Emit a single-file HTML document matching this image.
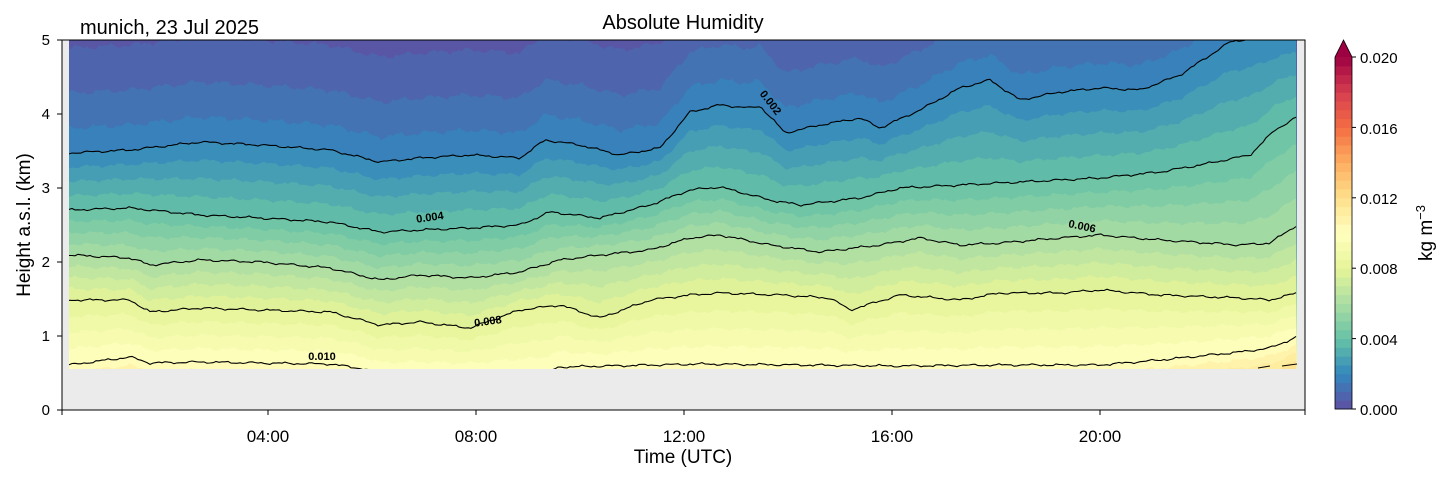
<!DOCTYPE html>
<html><head><meta charset="utf-8">
<style>
html,body{margin:0;padding:0;background:#fff;}
svg{display:block;font-family:"Liberation Sans","DejaVu Sans",sans-serif;}
</style></head>
<body>
<svg id="s" width="1454" height="478" xmlns="http://www.w3.org/2000/svg">
<defs>
<clipPath id="dc"><rect x="69" y="40" width="1228" height="329"/></clipPath>
<linearGradient id="none"/>
</defs>
<rect x="62" y="40" width="1243" height="370" fill="#ebebeb"/>
<g id="fills" clip-path="url(#dc)"></g>
<g id="lines" clip-path="url(#dc)" fill="none" stroke="#000" stroke-width="1.1"></g>
<g font-size="11" font-weight="bold" fill="#000">
<text x="770" y="103" transform="rotate(52 770 103)" text-anchor="middle" dominant-baseline="middle">0.002</text>
<text x="430" y="218" transform="rotate(-8 430 218)" text-anchor="middle" dominant-baseline="middle">0.004</text>
<text x="1082" y="227" transform="rotate(12 1082 227)" text-anchor="middle" dominant-baseline="middle">0.006</text>
<text x="488" y="322" transform="rotate(-8 488 322)" text-anchor="middle" dominant-baseline="middle">0.008</text>
<text x="322" y="357" text-anchor="middle" dominant-baseline="middle">0.010</text>
</g>
<rect x="62" y="40" width="1243" height="370" fill="none" stroke="#000" stroke-width="1"/>
<g id="axes" stroke="#000" stroke-width="1"></g>
<g font-size="15" fill="#000" text-anchor="end">
<text x="50" y="415">0</text><text x="50" y="341">1</text><text x="50" y="267">2</text>
<text x="50" y="193">3</text><text x="50" y="119">4</text><text x="50" y="45">5</text>
</g>
<g font-size="17" fill="#000" text-anchor="middle">
<text x="268" y="442">04:00</text><text x="476" y="442">08:00</text><text x="684" y="442">12:00</text>
<text x="892" y="442">16:00</text><text x="1100" y="442">20:00</text>
</g>
<text x="683" y="463" font-size="19" text-anchor="middle">Time (UTC)</text>
<text x="30" y="225" font-size="19" text-anchor="middle" transform="rotate(-90 30 225)">Height a.s.l. (km)</text>
<text x="683" y="29" font-size="20" text-anchor="middle">Absolute Humidity</text>
<text x="80" y="34" font-size="20">munich, 23 Jul 2025</text>
<g id="cb"></g>
<g font-size="15" fill="#000">
<text x="1360" y="415">0.000</text><text x="1360" y="345">0.004</text><text x="1360" y="274">0.008</text>
<text x="1360" y="204">0.012</text><text x="1360" y="134">0.016</text><text x="1360" y="63">0.020</text>
</g>
<text x="1432" y="233" font-size="19" text-anchor="middle" transform="rotate(-90 1432 233)">kg m<tspan font-size="13" dy="-7">−3</tspan></text>
</svg>
<script>
var NS="http://www.w3.org/2000/svg";
function el(t,a,p){var e=document.createElementNS(NS,t);for(var k in a)e.setAttribute(k,a[k]);p.appendChild(e);return e;}
var anc=["#5e4fa2","#3288bd","#66c2a5","#abdda4","#e6f598","#ffffbf","#fee08b","#fdae61","#f46d43","#d53e4f","#9e0142"];
function hx(h){return [parseInt(h.substr(1,2),16),parseInt(h.substr(3,2),16),parseInt(h.substr(5,2),16)];}
function cmap(t){t=Math.max(0,Math.min(1,t));var f=t*10,i=Math.min(9,Math.floor(f)),r=f-i;var a=hx(anc[i]),b=hx(anc[i+1]);
return "rgb("+[0,1,2].map(function(j){return Math.round(a[j]+(b[j]-a[j])*r)}).join(",")+")";}
function band(k){return cmap((k+0.5)/40);}
var P={
4:[[69,153],[130,150],[200,142],[260,145],[330,150],[380,162],[420,158],[470,155],[520,158],[545,140],[580,145],[620,155],[660,148],[690,112],[720,105],[750,108],[760,106],[775,122],[785,133],[820,125],[860,118],[880,128],[920,110],[960,88],[990,80],[1020,100],[1060,92],[1100,88],[1140,90],[1180,75],[1230,42],[1297,30]],
8:[[69,210],[130,208],[200,215],[260,218],[330,222],[380,232],[420,230],[470,228],[520,225],[550,212],[600,218],[650,205],[690,190],[720,187],[770,200],[800,205],[860,198],[900,188],[960,185],[1000,183],[1060,180],[1100,178],[1160,172],[1200,165],[1250,155],[1275,130],[1297,117]],
12:[[69,255],[130,258],[150,265],[200,260],[260,262],[330,268],[380,280],[420,275],[470,278],[520,272],[560,260],[600,255],[650,250],[690,238],[720,235],[770,245],[820,252],[880,245],[920,238],[960,245],[1000,243],[1060,238],[1100,235],[1160,240],[1240,245],[1270,243],[1297,225]],
16:[[69,300],[130,300],[150,312],[200,308],[260,310],[330,312],[380,325],[420,322],[470,328],[520,310],[560,305],[600,318],[650,300],[690,295],[720,293],[780,295],[830,298],[850,310],[900,295],[960,300],[1000,293],[1060,293],[1100,290],[1160,295],[1240,298],[1270,300],[1297,293]],
20:[[69,365],[130,357],[150,363],[200,362],[260,363],[330,364],[365,369],[380,375],[540,375],[560,367],[700,364],[900,366],[1000,365],[1100,365],[1160,360],[1200,356],[1240,352],[1270,348],[1297,337]]
};
function interp(p,x){if(x<=p[0][0])return p[0][1];for(var i=1;i<p.length;i++){if(x<=p[i][0]){var r=(x-p[i-1][0])/(p[i][0]-p[i-1][0]);return p[i-1][1]+r*(p[i][1]-p[i-1][1]);}}return p[p.length-1][1];}
function wig(x,s){return 1.2*Math.sin(x*0.21+s)+0.8*Math.sin(x*0.53+s*2)+0.5*Math.sin(x*1.1+s*3);}
var xs=[];for(var x=69;x<=1297;x+=3)xs.push(x);
function H(k,x){
 if(k>=4&&k<=20){var lo=Math.floor((k-4)/4)*4+4;if(lo>16)lo=16;var r=(k-lo)/4;var y=interp(P[lo],x)*(1-r)+interp(P[lo+4],x)*r;if(r>0)y+=wig(x,k);return y;}
 if(k<4){var off=[0,105,60,25][k];return interp(P[4],x)-off+1.5*wig(x,k);}
 var b=Math.min(interp(P[20],x),369);return b+(k-20)*8+wig(x,k);}
var fills=document.getElementById("fills"),lines=document.getElementById("lines");
el("rect",{x:69,y:40,width:1228,height:329,fill:band(0)},fills);
for(var k=1;k<=24;k++){var d="M69,380";xs.forEach(function(x){d+=" L"+x+","+H(k,x).toFixed(1);});d+=" L1297,380 Z";el("path",{d:d,fill:band(k)},fills);}
[4,8,12,16,20].forEach(function(k){var d="";xs.forEach(function(x,i){d+=(i?" L":"M")+x+","+(interp(P[k],x)+0.6*wig(x,k+7)).toFixed(1);});el("path",{d:d},lines);});
el("path",{d:"M1258,368 L1270,366 M1282,366 L1297,364"},lines);
var ax=document.getElementById("axes");
[0,1,2,3,4,5].forEach(function(i){var y=410-74*i;el("line",{x1:57,y1:y,x2:62,y2:y},ax);});
[62,268,476,684,892,1100,1305].forEach(function(x){el("line",{x1:x,y1:410,x2:x,y2:415},ax);});
var cb=document.getElementById("cb");
for(var i=0;i<40;i++){var y0=409-(i+1)*8.8;el("rect",{x:1335,y:y0.toFixed(1),width:17,height:9.3,fill:band(i)},cb);}
el("path",{d:"M1335,57 L1343.5,40 L1352,57 Z",fill:band(40)},cb);
el("path",{d:"M1335,57 L1343.5,40 L1352,57 L1352,409 L1335,409 Z",fill:"none",stroke:"#000","stroke-width":0.8},cb);
[409,338.6,268.2,197.8,127.4,57].forEach(function(y){el("line",{x1:1352,y1:y,x2:1356,y2:y,stroke:"#000"},cb);});
</script>
</body></html>
